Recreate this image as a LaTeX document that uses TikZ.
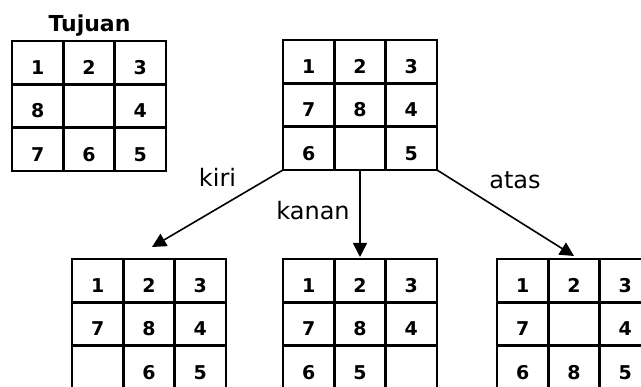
\documentclass[tikz,border=0pt]{standalone}
\usepackage{fontspec}
\setmainfont{DejaVu Sans}
\usetikzlibrary{arrows.meta}
\tikzset{
  gridbox/.style={draw, line width=2pt, minimum width=154pt, minimum height=130pt, inner sep=0pt, outer sep=0pt},
  divider/.style={line width=3.5pt},
  digit/.style={font=\fontsize{19}{22}\selectfont\bfseries, anchor=base, inner sep=0pt},
  movelabel/.style={font=\fontsize{24}{28}\selectfont, anchor=base, inner sep=0pt},
  movearrow/.style={line width=1.6pt, -{Triangle[length=14pt,width=14pt]}},
}
\newcommand\puzzlegrid[4]{%
  \node[gridbox] (#1) at (#2+77,#3+65) {};
  \draw[divider] (#2+51.33,#3) -- (#2+51.33,#3+130);
  \draw[divider] (#2+102.67,#3) -- (#2+102.67,#3+130);
  \draw[divider] (#2,#3+43.33) -- (#2+154,#3+43.33);
  \draw[divider] (#2,#3+86.67) -- (#2+154,#3+86.67);
  \foreach \d [count=\i from 0] in {#4} {
    \pgfmathsetmacro\cx{#2+25.67+51.33*mod(\i,3)}
    \pgfmathsetmacro\cy{#3+33.5+43.33*int(\i/3)}
    \node[digit] (#1-\i) at (\cx,\cy) {\d};
  }
}
\begin{document}
\begin{tikzpicture}[x=1pt,y=-1pt]
\useasboundingbox (0,0) rectangle (641,387);
\clip (0,0) rectangle (641,387);
\fill[white] (0,0) rectangle (641,387);
\node[font=\fontsize{22}{26}\selectfont\bfseries, anchor=base, inner sep=0pt] (title) at (89.5,32) {Tujuan};
\puzzlegrid{goal}{12}{41}{1,2,3,8,{},4,7,6,5}
\puzzlegrid{start}{283}{40}{1,2,3,7,8,4,6,{},5}
\puzzlegrid{left}{72}{259}{1,2,3,7,8,4,{},6,5}
\puzzlegrid{mid}{283}{259}{1,2,3,7,8,4,6,5,{}}
\puzzlegrid{right}{497}{259}{1,2,3,7,{},4,6,8,5}
\coordinate (tipL) at (152,247);
\coordinate (tipM) at (360,257);
\coordinate (tipR) at (574,256);
\draw[movearrow] (start.south west) -- (tipL);
\draw[movearrow] (start.south) -- (tipM);
\draw[movearrow] (start.south east) -- (tipR);
\node[movelabel] (kiri) at (217.5,187) {kiri};
\node[movelabel] (kanan) at (313,220) {kanan};
\node[movelabel] (atas) at (515,189) {atas};
\end{tikzpicture}
\end{document}
